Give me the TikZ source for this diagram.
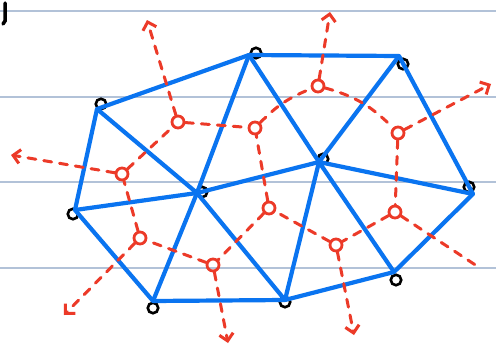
\documentclass[tikz,border=0pt]{standalone}
\usetikzlibrary{arrows.meta}
\definecolor{dblue}{RGB}{10,116,240}
\definecolor{vred}{RGB}{236,58,40}
\definecolor{rule}{RGB}{178,194,216}
\begin{document}
\begin{tikzpicture}[x=1pt,y=-1pt,
  dv/.style={circle,inner sep=0pt,minimum size=0pt},
  blackring/.style={circle,draw=black,line width=2.6pt,inner sep=0pt,minimum size=10.5pt},
  vv/.style={circle,draw=vred,line width=2.8pt,inner sep=0pt,minimum size=12pt},
  dedge/.style={draw=dblue,line width=4.2pt,line cap=round,line join=round},
  vedge/.style={draw=vred,line width=3pt,line cap=round,dash pattern=on 8pt off 8pt},
  vray/.style={vedge,-{Straight Barb[length=7pt,width=14pt,line width=3pt]}},
  rulestyle/.style={draw=rule,line width=1.2pt}]
\useasboundingbox (0,0) rectangle (496,348);
\fill[white] (0,0) rectangle (496,348);
% ruled lines
\foreach \yy in {11,97,182,268} \draw[rulestyle] (0,\yy) -- (496,\yy);
% stray mark at top left
\draw[line width=3.5pt,line cap=round] (5,3) -- (5,21) -- (3,24);
% small black circles near Delaunay vertices
\node[blackring] (m1) at (101,104) {};
\node[blackring] (m2) at (256,53) {};
\node[blackring] (m3) at (403,64) {};
\node[blackring] (m4) at (469,187) {};
\node[blackring] (m5) at (396,280) {};
\node[blackring] (m6) at (285,302) {};
\node[blackring] (m7) at (153,308) {};
\node[blackring] (m8) at (73,214) {};
\node[blackring] (m9) at (202,192) {};
\node[blackring] (m10) at (323,159) {};
% Delaunay vertices
\node[dv] (v1) at (97,109) {};
\node[dv] (v2) at (249,55) {};
\node[dv] (v3) at (399,56) {};
\node[dv] (v4) at (473,194) {};
\node[dv] (v5) at (394,272) {};
\node[dv] (v6) at (285,300) {};
\node[dv] (v7) at (153,301) {};
\node[dv] (v8) at (75,210) {};
\node[dv] (v9) at (197,193) {};
\node[dv] (v10) at (319,162) {};
% Delaunay edges
\draw[dedge] (v1) -- (v2) -- (v3) -- (v4) -- (v5) -- (v6) -- (v7) -- (v8) -- (v1);
\draw[dedge] (v1) -- (v9);
\draw[dedge] (v2) -- (v9);
\draw[dedge] (v2) -- (v10);
\draw[dedge] (v3) -- (v10);
\draw[dedge] (v9) -- (v10);
\draw[dedge] (v10) -- (v4);
\draw[dedge] (v10) -- (v5);
\draw[dedge] (v10) -- (v6);
\draw[dedge] (v9) -- (v6);
\draw[dedge] (v9) -- (v7);
\draw[dedge] (v9) -- (v8);
% Voronoi vertices
\node[vv] (c1) at (178,122) {};
\node[vv] (c2) at (255,128) {};
\node[vv] (c3) at (318,86) {};
\node[vv] (c4) at (398,133) {};
\node[vv] (c5) at (395,212) {};
\node[vv] (c6) at (336,245) {};
\node[vv] (c7) at (269,208) {};
\node[vv] (c8) at (213,265) {};
\node[vv] (c9) at (140,238) {};
\node[vv] (c10) at (122,174) {};
% ray ends
\coordinate (r1) at (147,20);
\coordinate (r3) at (330,12);
\coordinate (r4) at (491,84);
\coordinate (r5) at (480,268);
\coordinate (r6) at (354,335);
\coordinate (r8) at (228,343);
\coordinate (r9) at (64,315);
\coordinate (r10) at (11,155);
% Voronoi edges
\draw[vedge] (c1) -- (c2);
\draw[vedge] (c2) to[bend left=12] (c3);
\draw[vedge] (c3) to[bend left=15] (c4);
\draw[vedge] (c4) -- (c5);
\draw[vedge] (c5) -- (c6);
\draw[vedge] (c6) -- (c7);
\draw[vedge] (c7) -- (c2);
\draw[vedge] (c7) -- (c8);
\draw[vedge] (c8) -- (c9);
\draw[vedge] (c9) -- (c10);
\draw[vedge] (c10) -- (c1);
% Voronoi rays
\draw[vray] (c1) -- (r1);
\draw[vray] (c3) -- (r3);
\draw[vray] (c4) -- (r4);
\draw[vedge] (c5) -- (r5);
\draw[vray] (c6) -- (r6);
\draw[vray] (c8) -- (r8);
\draw[vray] (c9) -- (r9);
\draw[vray] (c10) -- (r10);
\end{tikzpicture}
\end{document}
